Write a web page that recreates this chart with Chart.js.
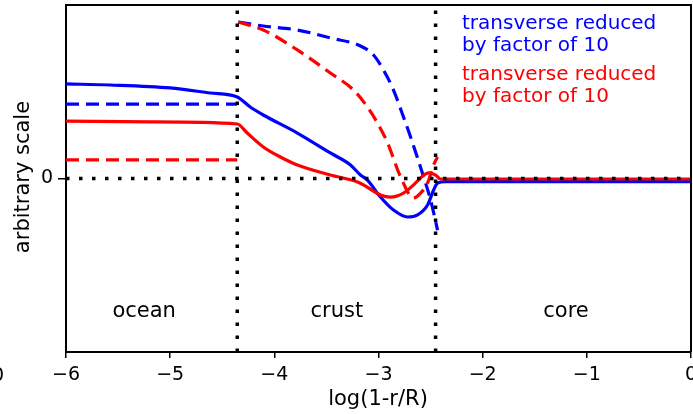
<!DOCTYPE html>
<html>
<head>
<meta charset="utf-8">
<script src="https://cdn.jsdelivr.net/npm/chart.js@4.4.1/dist/chart.umd.min.js"></script>
<style>
  html, body { margin: 0; padding: 0; background: #fff; }
  #wrap { width: 693px; height: 414px; }
</style>
</head>
<body>
<div id="wrap"><canvas id="chart" width="693" height="414"></canvas></div>
<script>
// ---- Data ----
const xTicks = [-6, -5, -4, -3, -2, -1, 0];
const yTicks = [0];
const boundaries = [-4.356, -2.452];          // ocean|crust, crust|core
const regionNames = ['ocean', 'crust', 'core'];
const regionCentres = [-5.25, -3.4, -1.2];
const legendLines = [
  ['transverse reduced', 'by factor of 10'],
  ['transverse reduced', 'by factor of 10']
];

const blueSolidX = [-6, -5.577, -5, -4.615, -4.356, -4.231, -4.106, -3.779, -3.462, -3.269, -3.173, -3.106, -2.981, -2.856, -2.721, -2.625, -2.529, -2.471, -2.433, -2.356, 0];
const blueSolidY = [0.545, 0.539, 0.522, 0.493, 0.470, 0.412, 0.366, 0.262, 0.147, 0.078, 0.02, -0.009, -0.107, -0.182, -0.222, -0.21, -0.153, -0.066, -0.026, -0.018, -0.018];

const redSolidX = [-6, -5.19, -4.356, -4.26, -4.106, -3.942, -3.779, -3.462, -3.202, -3.144, -2.981, -2.885, -2.76, -2.663, -2.596, -2.519, -2.452, -2.404, 0];
const redSolidY = [0.331, 0.326, 0.314, 0.262, 0.182, 0.124, 0.078, 0.02, -0.02, -0.037, -0.095, -0.107, -0.084, -0.037, 0.003, 0.032, 0.02, -0.003, -0.003];

const blueDashOceanX = [-6, -4.356];
const blueDashOceanY = [0.429, 0.429];
const blueDashCrustX = [-4.346, -4.106, -3.779, -3.462, -3.173, -3.048, -2.952, -2.856, -2.76, -2.692, -2.567, -2.5, -2.433];
const blueDashCrustY = [0.902, 0.879, 0.856, 0.81, 0.764, 0.712, 0.625, 0.51, 0.354, 0.239, 0.009, -0.124, -0.297];

const redDashOceanX = [-6, -4.356];
const redDashOceanY = [0.107, 0.107];
const redDashCrustX = [-4.346, -4.106, -3.779, -3.462, -3.24, -3.106, -3.01, -2.913, -2.788, -2.663, -2.596, -2.529, -2.471, -2.433];
const redDashCrustY = [0.902, 0.856, 0.741, 0.608, 0.51, 0.412, 0.32, 0.205, 0.009, -0.112, -0.084, -0.026, 0.078, 0.124];

// ---- Helpers ----
const FONT = "'DejaVu Sans', sans-serif";
const BLUE = '#0000ff';
const RED = '#ff0000';

function pts(xs, ys) {
  return xs.map((x, i) => ({ x: x, y: ys[i] }));
}

function curve(xs, ys, color, dashed) {
  return {
    data: pts(xs, ys),
    borderColor: color,
    borderWidth: 3.2,
    borderDash: dashed ? [13, 7] : [],
    pointRadius: 0,
    fill: false,
    cubicInterpolationMode: 'monotone'
  };
}

function dotted(data) {
  return {
    data: data,
    borderColor: '#000',
    borderWidth: 3.5,
    borderDash: [3.5, 9.5],
    borderCapStyle: 'butt',
    pointRadius: 0,
    fill: false,
    tension: 0
  };
}

const datasets = [
  dotted([{ x: xTicks[0], y: 0 }, { x: xTicks[xTicks.length - 1], y: 0 }]),
  dotted([{ x: boundaries[0], y: -1 }, { x: boundaries[0], y: 1 }]),
  dotted([{ x: boundaries[1], y: -1 }, { x: boundaries[1], y: 1 }]),
  curve(redSolidX, redSolidY, RED, false),
  curve(blueSolidX, blueSolidY, BLUE, false),
  curve(redDashOceanX, redDashOceanY, RED, true),
  curve(redDashCrustX, redDashCrustY, RED, true),
  curve(blueDashOceanX, blueDashOceanY, BLUE, true),
  curve(blueDashCrustX, blueDashCrustY, BLUE, true)
];

// ---- Text + frame plugin ----
const annotations = {
  id: 'annotations',
  afterDraw(chart) {
    const { ctx, chartArea: a, scales: { x } } = chart;
    ctx.save();

    // top / right spines
    ctx.strokeStyle = '#000';
    ctx.lineWidth = 2;
    ctx.beginPath();
    ctx.moveTo(a.left, a.top);
    ctx.lineTo(a.right, a.top);
    ctx.lineTo(a.right, a.bottom);
    ctx.stroke();

    ctx.fillStyle = '#000';
    ctx.textAlign = 'center';
    ctx.textBaseline = 'middle';
    ctx.font = '21px ' + FONT;
    regionNames.forEach((name, i) => {
      ctx.fillText(name, x.getPixelForValue(regionCentres[i]), 312);
    });

    // legend-ish text
    ctx.textAlign = 'left';
    ctx.font = '20px ' + FONT;
    const colors = [BLUE, RED];
    legendLines.forEach((lines, i) => {
      ctx.fillStyle = colors[i];
      lines.forEach((t, j) => {
        ctx.fillText(t, 462, 24 + i * 51 + j * 22);
      });
    });

    // axis titles
    ctx.fillStyle = '#000';
    ctx.textAlign = 'center';
    ctx.font = '21px ' + FONT;
    ctx.fillText('log(1-r/R)', 378, 400);
    ctx.translate(24, 177);
    ctx.rotate(-Math.PI / 2);
    ctx.fillText('arbitrary scale', 0, 0);
    ctx.restore();

    // clipped label of neighbouring panel at the far left
    ctx.save();
    ctx.font = '19px ' + FONT;
    ctx.textAlign = 'center';
    ctx.textBaseline = 'middle';
    ctx.fillStyle = '#000';
    ctx.fillText('0', -2, 376);
    ctx.restore();
  }
};

// ---- Chart ----
new Chart(document.getElementById('chart'), {
  type: 'line',
  data: { datasets: datasets },
  options: {
    responsive: false,
    animation: false,
    layout: { padding: { top: 5, right: 2, left: 0, bottom: 0 } },
    plugins: { legend: { display: false }, tooltip: { enabled: false } },
    scales: {
      x: {
        type: 'linear',
        min: xTicks[0],
        max: xTicks[xTicks.length - 1],
        afterBuildTicks: s => { s.ticks = xTicks.map(v => ({ value: v })); },
        afterFit: s => { s.height = 62; s.paddingLeft = 0; s.paddingRight = 0; },
        border: { color: '#000', width: 2 },
        grid: { drawOnChartArea: false, drawTicks: true, tickLength: 6, color: '#000', lineWidth: 1.5 },
        ticks: {
          color: '#000',
          font: { family: FONT, size: 19 },
          padding: 6,
          maxRotation: 0,
          callback: v => (v < 0 ? '\u2212' + Math.abs(v) : String(v))
        }
      },
      y: {
        type: 'linear',
        min: -1,
        max: 1,
        afterBuildTicks: s => { s.ticks = yTicks.map(v => ({ value: v })); },
        afterFit: s => { s.width = 66; s.paddingTop = 0; s.paddingBottom = 0; },
        border: { color: '#000', width: 2 },
        grid: { drawOnChartArea: false, drawTicks: true, tickLength: 8, color: '#000', lineWidth: 1.5 },
        ticks: {
          color: '#000',
          font: { family: FONT, size: 19 },
          padding: 5,
          callback: v => String(v)
        }
      }
    }
  },
  plugins: [annotations]
});
</script>
</body>
</html>
